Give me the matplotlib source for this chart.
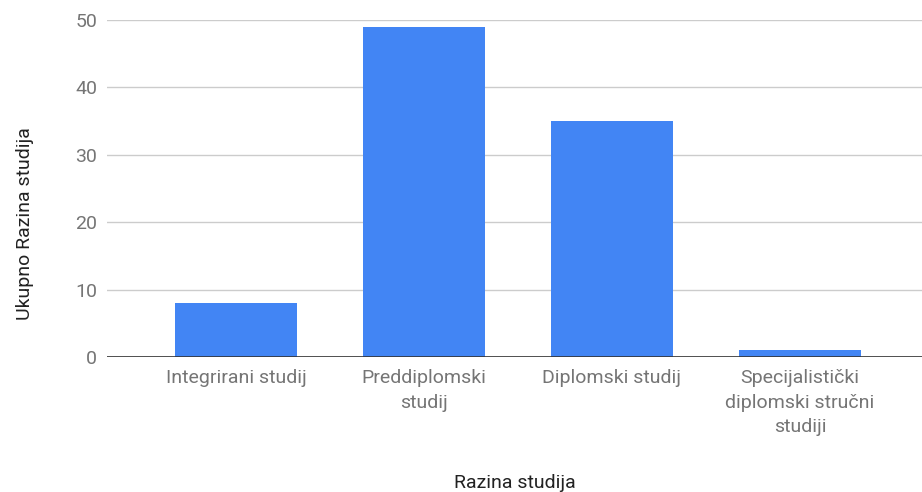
import matplotlib.pyplot as plt

plt.rcParams['font.family'] = ['Roboto', 'DejaVu Sans']

categories = ['Integrirani studij', 'Preddiplomski\nstudij', 'Diplomski studij',
              'Specijalistički\ndiplomski stručni\nstudiji']
values = [8, 49, 35, 1]
yticks = [0, 10, 20, 30, 40, 50]

fig = plt.figure(figsize=(9.22, 4.92), dpi=100)
ax = fig.add_axes([0.116, 0.2744, 0.884, 0.6850])

x = list(range(len(categories)))
ax.bar(x, values, width=0.65, color='#4285f4', zorder=3)

ax.set_xlim(-0.686, 3.649)
ax.set_ylim(0, 50)
ax.set_yticks(yticks)
ax.set_xticks(x)
ax.set_xticklabels(categories, linespacing=1.45, va='top')

for s in ax.spines.values():
    s.set_visible(False)
ax.axhline(0, color='#333333', lw=1.2, zorder=4)
ax.grid(axis='y', color='#cccccc', lw=1, zorder=0)
ax.tick_params(axis='both', length=0, labelsize=14, labelcolor='#757575')
ax.tick_params(axis='y', pad=7)
ax.tick_params(axis='x', pad=9)

ax.set_xlabel('Razina studija', fontsize=14, color='#222222', labelpad=27)
ax.set_ylabel('Ukupno Razina studija', fontsize=14, color='#222222')
ax.yaxis.set_label_coords(-0.089, 0.395)

fig.savefig('out.png', dpi=100)
